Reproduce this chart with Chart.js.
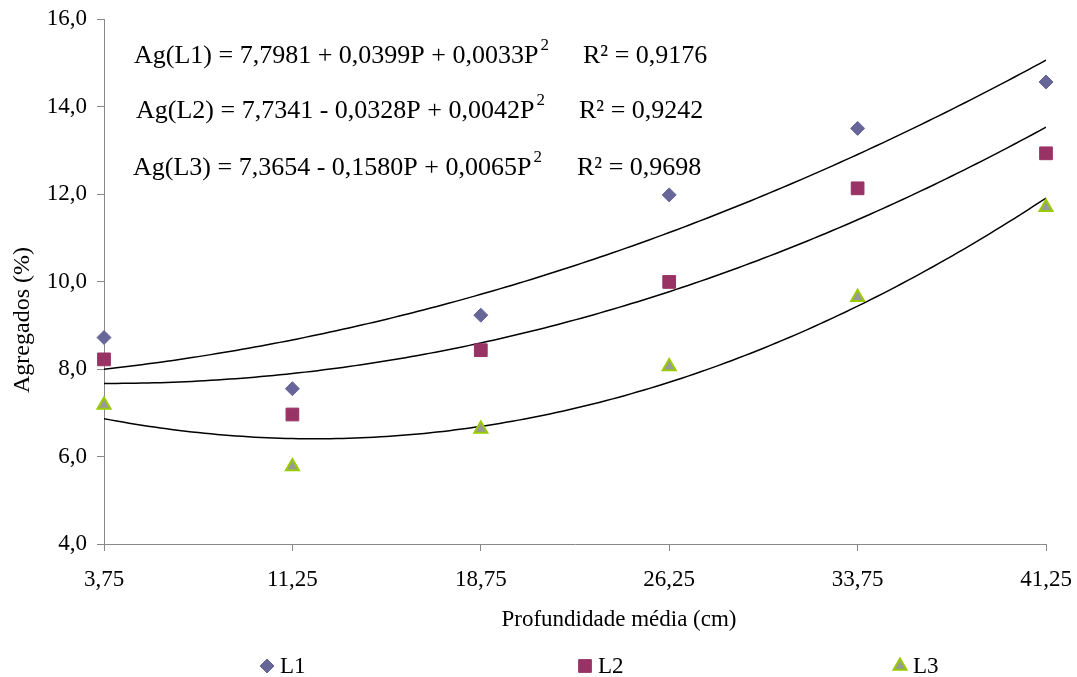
<!DOCTYPE html>
<html>
<head>
<meta charset="utf-8">
<script src="https://cdn.jsdelivr.net/npm/chart.js@4"></script>
<style>
  body { margin: 0; background: #fff; }
</style>
</head>
<body>
<canvas id="aggChart" width="1077" height="677"></canvas>
<script>
        // data
        const depth = [3.75, 11.25, 18.75, 26.25, 33.75, 41.25];
        const aggL1 = [8.72, 7.55, 9.23, 11.98, 13.50, 14.56];
        const aggL2 = [8.22, 6.96, 8.43, 9.99, 12.13, 12.93];
        const aggL3 = [7.18, 5.77, 6.63, 8.06, 9.64, 11.70];
        const yTicks = [4, 6, 8, 10, 12, 14, 16];
        const seriesNames = ["L1", "L2", "L3"];

        // regression coefficients printed on the chart (a + bP + cP^2)
        const coefL1 = [7.7981, 0.0399, 0.0033];
        const coefL2 = [7.7341, -0.0328, 0.0042];
        const coefL3 = [7.3654, -0.1580, 0.0065];
        const eqText = [
            "Ag(L1) = 7,7981 + 0,0399P + 0,0033P",
            "Ag(L2) = 7,7341 - 0,0328P + 0,0042P",
            "Ag(L3) = 7,3654 - 0,1580P + 0,0065P"
        ];
        const r2Text = ["R² = 0,9176", "R² = 0,9242", "R² = 0,9698"];

        const serif = "'Liberation Serif', 'Times New Roman', serif";

        function trend(coef) {
            const pts = [];
            for (let p = depth[0]; p <= depth[depth.length - 1] + 1e-9; p += 0.25) {
                pts.push({ x: p, y: coef[0] + coef[1] * p + coef[2] * p * p });
            }
            return pts;
        }

        function pairs(ys) {
            return depth.map((x, i) => ({ x: x, y: ys[i] }));
        }

        const fitLine = {
            type: "line",
            borderColor: "#000",
            borderWidth: 1.5,
            pointRadius: 0,
            fill: false,
            tension: 0
        };

        // equations, axis titles and legend
        const extras = {
            id: "extras",
            afterDraw(chart) {
                const ctx = chart.ctx;
                ctx.save();
                ctx.fillStyle = "#000";
                ctx.textBaseline = "alphabetic";

                const eqX = [134, 136, 133];
                const eqY = [63, 118, 175];
                const r2X = [583, 579, 577];
                eqText.forEach((t, i) => {
                    ctx.font = "26px " + serif;
                    ctx.textAlign = "left";
                    ctx.fillText(t, eqX[i], eqY[i]);
                    const w = ctx.measureText(t).width;
                    ctx.font = "17px " + serif;
                    ctx.fillText("2", eqX[i] + w + 2, eqY[i] - 13);
                    ctx.font = "26px " + serif;
                    ctx.fillText(r2Text[i], r2X[i], eqY[i]);
                });

                ctx.font = "23px " + serif;
                ctx.textAlign = "center";
                ctx.textBaseline = "middle";

                // x axis title
                ctx.fillText("Profundidade média (cm)", 619, 620);

                // y axis title
                ctx.save();
                ctx.translate(23, 320);
                ctx.rotate(-Math.PI / 2);
                ctx.font = "24px " + serif;
                ctx.fillText("Agregados (%)", 0, 0);
                ctx.restore();

                // legend
                const legX = [267, 585, 900];
                const legY = 666;
                ctx.textAlign = "left";
                seriesNames.forEach((name, i) => {
                    const ds = chart.data.datasets[i];
                    ctx.fillStyle = ds.backgroundColor;
                    ctx.strokeStyle = ds.borderColor;
                    ctx.lineWidth = ds.borderWidth;
                    Chart.helpers.drawPoint(ctx, {
                        pointStyle: ds.pointStyle,
                        radius: ds.pointRadius,
                        borderWidth: ds.borderWidth
                    }, legX[i], legY);
                    ctx.fillStyle = "#000";
                    ctx.fillText(name, legX[i] + 13, legY + 1);
                });
                ctx.restore();
            }
        };

        new Chart(document.getElementById("aggChart"), {
            type: "scatter",
            data: {
                datasets: [{
                    label: "L1",
                    data: pairs(aggL1),
                    pointStyle: "rectRot",
                    pointRadius: 7,
                    backgroundColor: "#666699",
                    borderColor: "#666699",
                    borderWidth: 1,
                    clip: false
                }, {
                    label: "L2",
                    data: pairs(aggL2),
                    pointStyle: "rect",
                    pointRadius: 9,
                    backgroundColor: "#993366",
                    borderColor: "#993366",
                    borderWidth: 1,
                    clip: false
                }, {
                    label: "L3",
                    data: pairs(aggL3),
                    pointStyle: "triangle",
                    pointRadius: 7.5,
                    backgroundColor: "#999999",
                    borderColor: "#99cc00",
                    borderWidth: 2,
                    clip: false
                },
                Object.assign({ label: "fit L1", data: trend(coefL1) }, fitLine),
                Object.assign({ label: "fit L2", data: trend(coefL2) }, fitLine),
                Object.assign({ label: "fit L3", data: trend(coefL3) }, fitLine)]
            },
            options: {
                responsive: false,
                animation: false,
                devicePixelRatio: 1,
                layout: {
                    padding: { left: 0, top: 19, right: 31, bottom: 0 }
                },
                plugins: {
                    legend: { display: false },
                    tooltip: { enabled: false }
                },
                scales: {
                    x: {
                        type: "linear",
                        min: depth[0],
                        max: depth[depth.length - 1],
                        afterBuildTicks: s => { s.ticks = depth.map(v => ({ value: v })); },
                        afterFit: s => { s.height = 133; s.paddingLeft = 0; s.paddingRight = 0; },
                        grid: { display: true, drawOnChartArea: false, tickLength: 7, color: "#888" },
                        border: { color: "#888" },
                        ticks: {
                            padding: 15,
                            color: "#000",
                            font: { family: serif, size: 23 },
                            callback: v => v.toFixed(2).replace(".", ",")
                        }
                    },
                    y: {
                        min: yTicks[0],
                        max: yTicks[yTicks.length - 1],
                        afterBuildTicks: s => { s.ticks = yTicks.map(v => ({ value: v })); },
                        afterFit: s => { s.width = 104; s.paddingTop = 0; s.paddingBottom = 0; },
                        grid: { display: true, drawOnChartArea: false, tickLength: 7, color: "#888" },
                        border: { color: "#888" },
                        ticks: {
                            padding: 10,
                            color: "#000",
                            font: { family: serif, size: 23 },
                            callback: v => v.toFixed(1).replace(".", ",")
                        }
                    }
                }
            },
            plugins: [extras]
        });
</script>
</body>
</html>
